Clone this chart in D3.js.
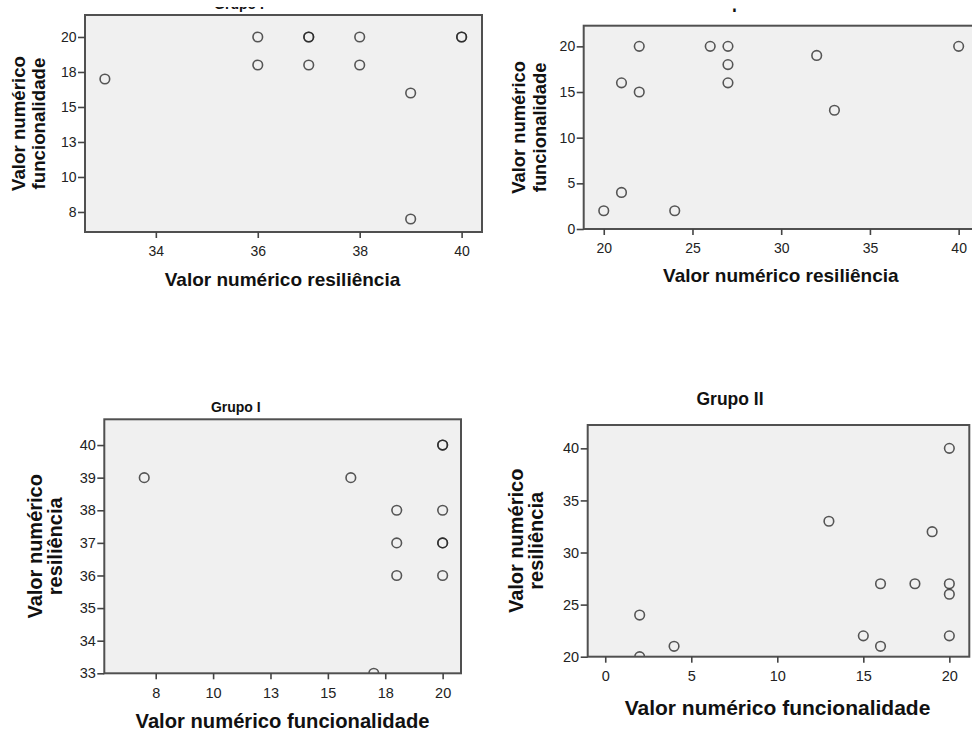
<!DOCTYPE html>
<html>
<head>
<meta charset="utf-8">
<script src="https://cdn.jsdelivr.net/npm/d3@7"></script>
<style>
  body { margin: 0; background: #fff; }
  svg { display: block; font-family: "Liberation Sans", Arial, sans-serif; }
</style>
</head>
<body>
<div id="chart"></div>
<script>
// Data
const grupo1Resiliencia = [33, 36, 36, 37, 37, 37, 38, 38, 39, 39, 40, 40];
const grupo1Funcionalidade = [17, 20, 18, 20, 20, 18, 20, 18, 16, 7, 20, 20];

const grupo2Resiliencia = [20, 21, 21, 22, 22, 24, 26, 27, 27, 27, 32, 33, 40];
const grupo2Funcionalidade = [2, 16, 4, 20, 15, 2, 20, 20, 18, 16, 19, 13, 20];

// tick values
const ticksG1Func = [7.5, 10, 12.5, 15, 17.5, 20];
const ticksG1ResX = [34, 36, 38, 40];
const ticksG1ResY = [33, 34, 35, 36, 37, 38, 39, 40];
const ticksG2Func = [0, 5, 10, 15, 20];
const ticksG2Res = [20, 25, 30, 35, 40];

const labelRes = 'Valor numérico resiliência';
const labelFunc = 'Valor numérico funcionalidade';
const yLabelFunc = ['Valor numérico', 'funcionalidade'];
const yLabelRes = ['Valor numérico', 'resiliência'];

const W = 972, H = 733;

const svg = d3.select('#chart')
  .append('svg')
  .attr('width', W)
  .attr('height', H);

const fmt = d3.format('.0f');

// panel setups
const panels = [
  { id: 'tl', xs: grupo1Resiliencia, ys: grupo1Funcionalidade,
    xDomain: [32.61, 40.4], yDomain: [6.07, 21.57], xTicks: ticksG1ResX, yTicks: ticksG1Func,
    left: 85, right: 482, top: 15, bottom: 232,
    title: 'Grupo I', titleX: 239, titleY: 9, titleSize: 14, clipTop: 7,
    xLabel: labelRes, xLabelX: 282.5, xLabelY: 286, labelSize: 19,
    yLabel: yLabelFunc, yLabelX: 25, yLabelGap: 20, ySize: 18.7, tickSize: 14 },
  { id: 'tr', xs: grupo2Resiliencia, ys: grupo2Funcionalidade,
    xDomain: [18.87, 41.13], yDomain: [0, 22.26], xTicks: ticksG2Res, yTicks: ticksG2Func,
    left: 583.7, right: 978.7, top: 25.7, bottom: 229,
    title: 'Grupo II', titleX: 734.5, titleY: 8.3, titleSize: 17.5, clipTop: 8.4,
    xLabel: labelRes, xLabelX: 780.8, xLabelY: 281.7, labelSize: 19,
    yLabel: yLabelFunc, yLabelX: 525, yLabelGap: 21, ySize: 18.4, tickSize: 14 },
  { id: 'bl', xs: grupo1Funcionalidade, ys: grupo1Resiliencia,
    xDomain: [5.26, 20.8], yDomain: [33, 40.79], xTicks: ticksG1Func, yTicks: ticksG1ResY,
    left: 104.3, right: 461, top: 419.3, bottom: 673.3,
    title: 'Grupo I', titleX: 235.8, titleY: 411.5, titleSize: 14, clipTop: 0,
    xLabel: labelFunc, xLabelX: 282.5, xLabelY: 728, labelSize: 20.2,
    yLabel: yLabelRes, yLabelX: 41.5, yLabelGap: 20, ySize: 20, tickSize: 14.5 },
  { id: 'br', xs: grupo2Funcionalidade, ys: grupo2Resiliencia,
    xDomain: [-1.02, 21.16], yDomain: [20, 42.24], xTicks: ticksG2Func, yTicks: ticksG2Res,
    left: 587.7, right: 969.3, top: 425, bottom: 656.7,
    title: 'Grupo II', titleX: 730, titleY: 405, titleSize: 17.5, clipTop: 0,
    xLabel: labelFunc, xLabelX: 777.5, xLabelY: 715, labelSize: 21,
    yLabel: yLabelRes, yLabelX: 523, yLabelGap: 20, ySize: 20, tickSize: 14.5 }
];

panels.forEach((p) => {
  const x = d3.scaleLinear().domain(p.xDomain).range([p.left, p.right]);
  const y = d3.scaleLinear().domain(p.yDomain).range([p.bottom, p.top]);

  // title (top ones are cut off by the crop of the original)
  svg.append('clipPath').attr('id', 'tclip-' + p.id)
    .append('rect').attr('x', 0).attr('y', p.clipTop).attr('width', W).attr('height', H);
  svg.append('text')
    .attr('clip-path', 'url(#tclip-' + p.id + ')')
    .attr('x', p.titleX).attr('y', p.titleY)
    .attr('text-anchor', 'middle')
    .style('font-size', p.titleSize + 'px')
    .style('font-weight', 'bold')
    .style('fill', '#111')
    .text(p.title);

  // plot area
  svg.append('rect')
    .attr('x', p.left).attr('y', p.top)
    .attr('width', p.right - p.left).attr('height', p.bottom - p.top)
    .attr('fill', '#f0f0f0');

  svg.append('clipPath').attr('id', 'clip-' + p.id)
    .append('rect')
    .attr('x', p.left).attr('y', p.top)
    .attr('width', p.right - p.left).attr('height', p.bottom - p.top);

  svg.append('g')
    .attr('clip-path', 'url(#clip-' + p.id + ')')
    .selectAll('circle')
    .data(p.xs.map((d, i) => [d, p.ys[i]]))
    .enter()
    .append('circle')
    .attr('cx', (d) => x(d[0]))
    .attr('cy', (d) => y(d[1]))
    .attr('r', 4.8)
    .attr('fill', 'none')
    .attr('stroke', '#222')
    .attr('stroke-opacity', 0.75)
    .attr('stroke-width', 1.6);

  svg.append('rect')
    .attr('x', p.left).attr('y', p.top)
    .attr('width', p.right - p.left).attr('height', p.bottom - p.top)
    .attr('fill', 'none')
    .attr('stroke', '#505050')
    .attr('stroke-width', 2);

  const xAxis = d3.axisBottom(x).tickValues(p.xTicks).tickFormat(fmt).tickSize(6).tickPadding(8);
  const yAxis = d3.axisLeft(y).tickValues(p.yTicks).tickFormat(fmt).tickSize(7).tickPadding(1.5);

  const gx = svg.append('g').attr('transform', `translate(0, ${p.bottom})`).call(xAxis);
  const gy = svg.append('g').attr('transform', `translate(${p.left}, 0)`).call(yAxis);
  [gx, gy].forEach((g) => {
    g.select('.domain').remove();
    g.selectAll('text')
      .style('font-size', p.tickSize + 'px')
      .style('font-family', '"Liberation Sans", Arial, sans-serif')
      .attr('fill', '#222');
    g.selectAll('line').attr('stroke', '#444').attr('stroke-width', 1.6);
  });

  // x axis title
  svg.append('text')
    .attr('x', p.xLabelX).attr('y', p.xLabelY)
    .attr('text-anchor', 'middle')
    .style('font-size', p.labelSize + 'px')
    .style('font-weight', 'bold')
    .style('fill', '#111')
    .text(p.xLabel);

  // y axis title, two lines
  const cy = (p.top + p.bottom) / 2;
  const yt = svg.append('text')
    .attr('transform', `translate(${p.yLabelX}, ${cy}) rotate(-90)`)
    .attr('text-anchor', 'middle')
    .style('font-size', p.ySize + 'px')
    .style('font-weight', 'bold')
    .style('fill', '#111');
  p.yLabel.forEach((line, i) => {
    yt.append('tspan').attr('x', 0).attr('y', i * p.yLabelGap).text(line);
  });
});
</script>
</body>
</html>
